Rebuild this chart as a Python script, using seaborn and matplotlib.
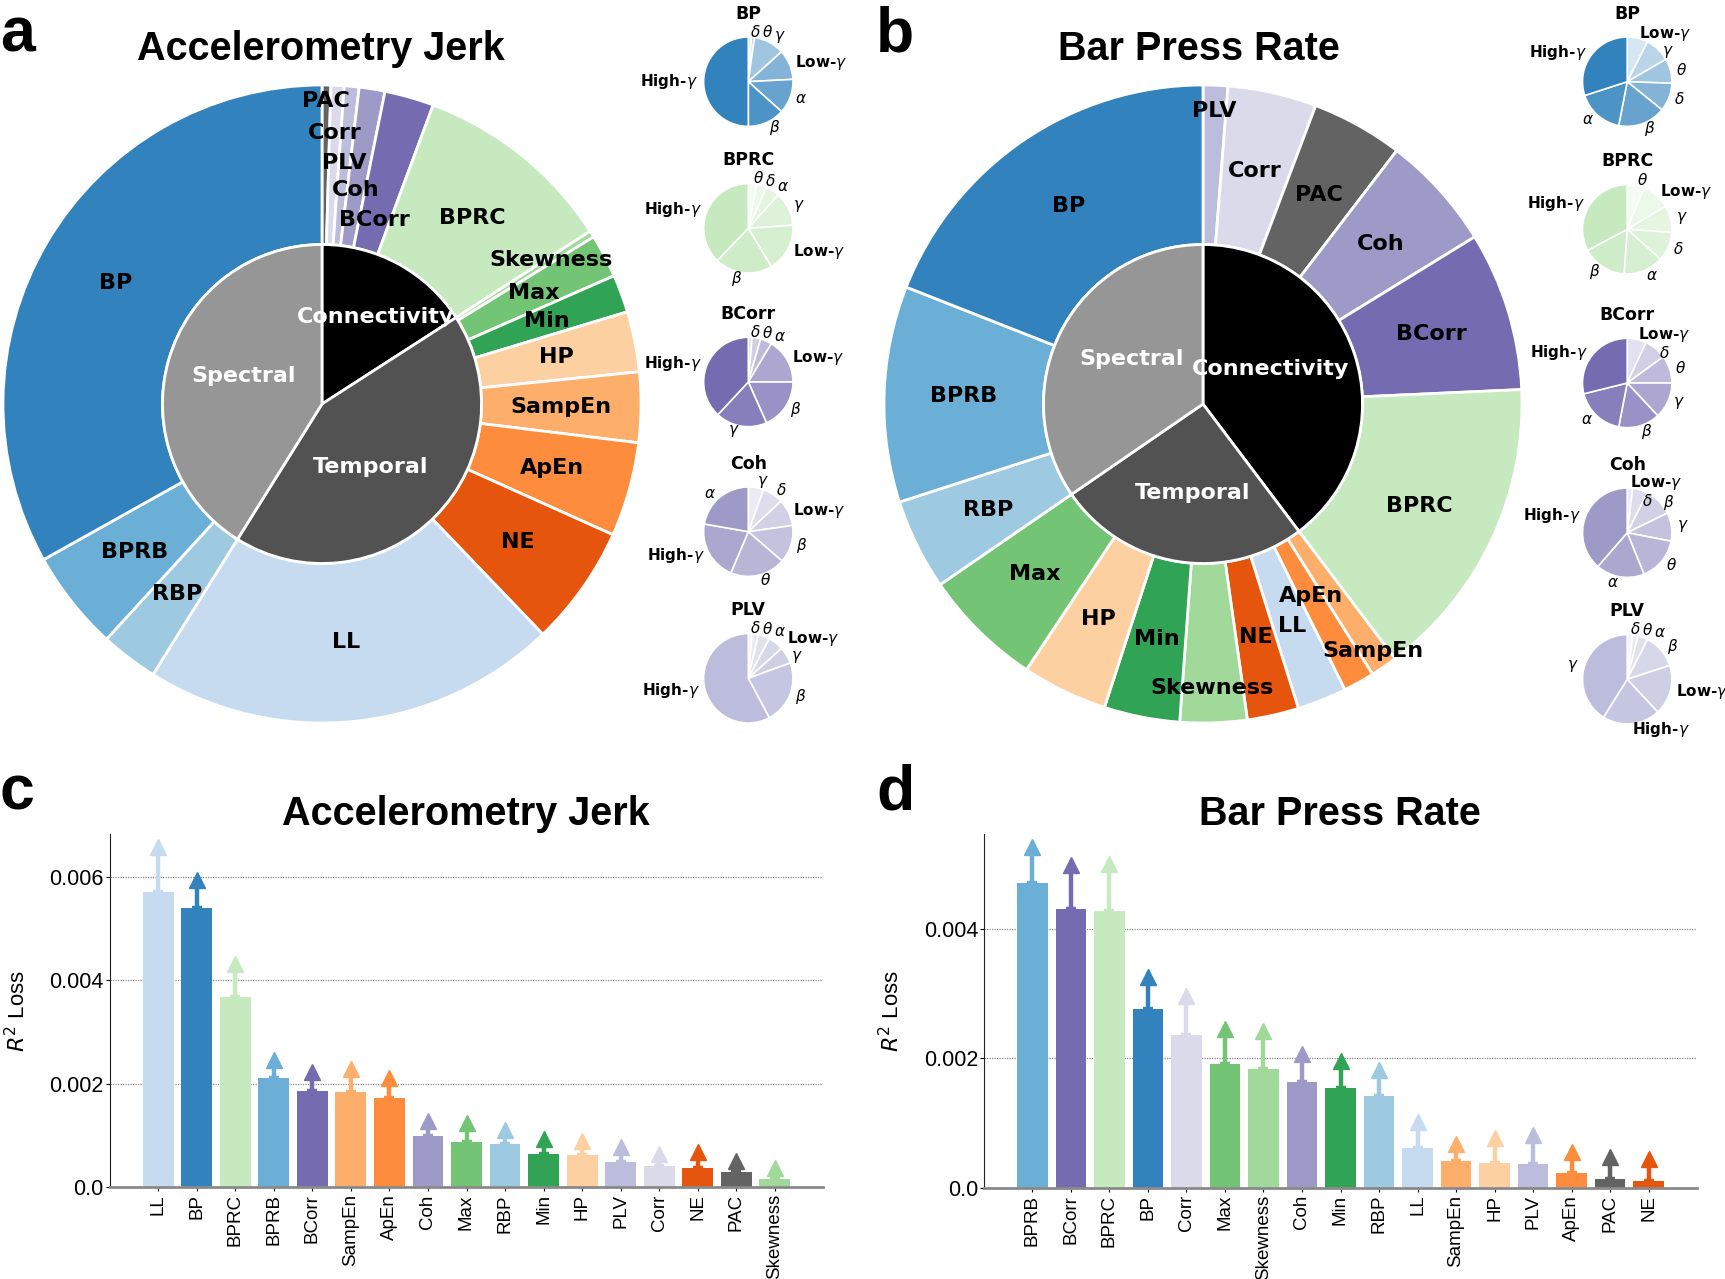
import numpy as np
import matplotlib
matplotlib.use("Agg")
import matplotlib.pyplot as plt
import seaborn as sns
from matplotlib.colors import to_rgb
from matplotlib.transforms import offset_copy

plt.rcParams['font.family'] = ['Liberation Sans', 'DejaVu Sans']
DONUT_FONT = 'DejaVu Sans'

# feature families
groups = ['Connectivity', 'Temporal', 'Spectral']
group_colors = ['#000000', '#525252', '#969696']
feature_group = {
    'PAC': 'Connectivity', 'Corr': 'Connectivity', 'PLV': 'Connectivity',
    'Coh': 'Connectivity', 'BCorr': 'Connectivity', 'BPRC': 'Connectivity',
    'Skewness': 'Temporal', 'Max': 'Temporal', 'Min': 'Temporal', 'HP': 'Temporal',
    'SampEn': 'Temporal', 'ApEn': 'Temporal', 'NE': 'Temporal', 'LL': 'Temporal',
    'RBP': 'Spectral', 'BPRB': 'Spectral', 'BP': 'Spectral',
}
feature_colors = {
    'BP': '#3182bd', 'BPRB': '#6baed6', 'RBP': '#9ecae1', 'LL': '#c6dbef',
    'NE': '#e6550d', 'ApEn': '#fd8d3c', 'SampEn': '#fdae6b', 'HP': '#fdd0a2',
    'Min': '#31a354', 'Max': '#74c476', 'Skewness': '#a1d99b', 'BPRC': '#c7e9c0',
    'BCorr': '#756bb1', 'Coh': '#9e9ac8', 'PLV': '#bcbddc', 'Corr': '#dadaeb',
    'PAC': '#636363',
}

# a: share of each feature (degrees of the ring)
jerk_features = ['PAC', 'Corr', 'PLV', 'Coh', 'BCorr', 'BPRC', 'Skewness', 'Max', 'Min',
                 'HP', 'SampEn', 'ApEn', 'NE', 'LL', 'RBP', 'BPRB', 'BP']
jerk_share = [1.6, 2.4, 2.7, 4.7, 9.0, 36.8, 1.2, 7.9, 6.9,
              11.0, 12.8, 17.2, 22.0, 75.8, 10.5, 18.3, 119.2]

# b
press_features = ['PLV', 'Corr', 'PAC', 'Coh', 'BCorr', 'BPRC', 'SampEn', 'ApEn', 'LL',
                  'NE', 'Skewness', 'Min', 'HP', 'Max', 'RBP', 'BPRB', 'BP']
press_share = [4.5, 16.2, 16.7, 21.0, 29.0, 55.6, 4.9, 5.7, 9.0,
               9.4, 12.2, 13.8, 15.6, 21.9, 16.6, 39.4, 68.5]

# c: R2 loss when a feature is dropped
jerk_rank = ['LL', 'BP', 'BPRC', 'BPRB', 'BCorr', 'SampEn', 'ApEn', 'Coh', 'Max',
             'RBP', 'Min', 'HP', 'PLV', 'Corr', 'NE', 'PAC', 'Skewness']
jerk_loss = [0.00571, 0.00539, 0.00367, 0.00212, 0.00187, 0.00185, 0.00172, 0.00099, 0.00088,
             0.00084, 0.00064, 0.00062, 0.00048, 0.00042, 0.00038, 0.00030, 0.00017]
jerk_upper = [0.00650, 0.00586, 0.00423, 0.00238, 0.00216, 0.00220, 0.00204, 0.00120, 0.00116,
              0.00103, 0.00086, 0.00082, 0.00070, 0.00057, 0.00060, 0.00044, 0.00029]

# d
press_rank = ['BPRB', 'BCorr', 'BPRC', 'BP', 'Corr', 'Max', 'Skewness', 'Coh', 'Min',
              'RBP', 'LL', 'SampEn', 'HP', 'PLV', 'ApEn', 'PAC', 'NE']
press_loss = [0.00471, 0.00431, 0.00428, 0.00277, 0.00236, 0.00191, 0.00183, 0.00163, 0.00154,
              0.00142, 0.00061, 0.00041, 0.00038, 0.00037, 0.00023, 0.00013, 0.00010]
press_upper = [0.00521, 0.00493, 0.00494, 0.00320, 0.00291, 0.00239, 0.00236, 0.00200, 0.00190,
               0.00176, 0.00095, 0.00061, 0.00071, 0.00075, 0.00049, 0.00042, 0.00038]

# band shares inside the small pies (degrees)
band_tex = {'δ': r'$\delta$', 'θ': r'$\theta$', 'α': r'$\alpha$', 'β': r'$\beta$',
            'γ': r'$\gamma$', 'Low-γ': r'Low-$\gamma$', 'High-γ': r'High-$\gamma$'}

jerk_bp_bands = ['δ', 'θ', 'γ', 'Low-γ', 'α', 'β', 'High-γ']
jerk_bp_share = [4, 4, 40, 39, 45, 48, 180]
jerk_bprc_bands = ['θ', 'δ', 'α', 'γ', 'Low-γ', 'β', 'High-γ']
jerk_bprc_share = [11, 13, 18, 44, 63, 75, 136]
jerk_bcorr_bands = ['δ', 'θ', 'α', 'Low-γ', 'β', 'γ', 'High-γ']
jerk_bcorr_share = [5, 11, 15, 59, 66, 67, 137]
jerk_coh_bands = ['γ', 'δ', 'Low-γ', 'β', 'θ', 'High-γ', 'α']
jerk_coh_share = [20, 27, 35, 49, 72, 77, 80]
jerk_plv_bands = ['δ', 'θ', 'α', 'Low-γ', 'γ', 'β', 'High-γ']
jerk_plv_share = [5, 8, 15, 20, 22, 82, 208]

press_bp_bands = ['Low-γ', 'γ', 'θ', 'δ', 'β', 'α', 'High-γ']
press_bp_share = [27, 33, 32, 37, 62, 61, 108]
press_bprc_bands = ['θ', 'Low-γ', 'γ', 'δ', 'α', 'β', 'High-γ']
press_bprc_share = [22, 37, 35, 38, 52, 58, 118]
press_bcorr_bands = ['Low-γ', 'δ', 'θ', 'γ', 'β', 'α', 'High-γ']
press_bcorr_share = [25, 29, 36, 47, 54, 65, 104]
press_coh_bands = ['Low-γ', 'δ', 'β', 'γ', 'θ', 'α', 'High-γ']
press_coh_share = [7, 20, 37, 37, 57, 63, 139]
press_plv_bands = ['δ', 'θ', 'α', 'β', 'Low-γ', 'High-γ', 'γ']
press_plv_share = [7, 7, 13, 45, 65, 75, 148]

W, H = 1725, 1279
fig = plt.figure(figsize=(W / 100, H / 100), dpi=100)


def place(cx, cy, hw, hh=None):
    hh = hw if hh is None else hh
    return fig.add_axes([(cx - hw) / W, 1 - (cy + hh) / H, 2 * hw / W, 2 * hh / H])


def donut(ax, features, shares, outer_pos, inner_pos):
    cols = [feature_colors[f] for f in features]
    outer, _ = ax.pie(shares, radius=1, startangle=90, counterclock=False, colors=cols,
                      wedgeprops=dict(width=0.5, edgecolor='white', linewidth=2))
    totals = [sum(s for f, s in zip(features, shares) if feature_group[f] == g) for g in groups]
    inner, _ = ax.pie(totals, radius=0.5, startangle=90, counterclock=False, colors=group_colors,
                      wedgeprops=dict(edgecolor='white', linewidth=2))
    for w, f in zip(outer, features):
        a = np.deg2rad((w.theta1 + w.theta2) / 2)
        r = outer_pos.get(f, 0.75)
        ax.text(r * np.cos(a), r * np.sin(a), f, ha='center', va='center',
                fontsize=16, fontweight='bold', family=DONUT_FONT)
    for w, g in zip(inner, groups):
        r, shift = inner_pos[g]
        a = np.deg2rad((w.theta1 + w.theta2) / 2 - shift)
        ax.text(r * np.cos(a), r * np.sin(a), g, ha='center', va='center', color='white',
                fontsize=16, fontweight='bold', family=DONUT_FONT)
    ax.set_xlim(-1, 1)
    ax.set_ylim(-1, 1)


def band_pie(ax, title, bands, shares, base):
    rgb = np.array(to_rgb(base))
    cols = [tuple(1 - t * (1 - rgb)) for t in np.linspace(0.2, 1, len(bands))]
    _, texts = ax.pie(shares, labels=[band_tex[b] for b in bands], colors=cols, startangle=90,
                      counterclock=False, labeldistance=1.12,
                      wedgeprops=dict(edgecolor='white', linewidth=1.2),
                      textprops=dict(fontsize=11, fontweight='bold', family=DONUT_FONT))
    ax.set_xlim(-1, 1)
    ax.set_ylim(-1, 1)
    ax.text(0, 1.52, title, ha='center', va='center', fontsize=12.5,
            fontweight='bold', family=DONUT_FONT)
    return ax, texts


def spread_labels(ax, texts, renderer):
    # keep labels of thin neighbouring slices from sitting on top of each other
    px = ax.get_window_extent(renderer).width / 2
    for k, cur in enumerate(texts):
        if k == 0 or cur.get_position()[0] <= 0:
            continue
        for prev in texts[:k]:
            a, b = prev.get_window_extent(renderer), cur.get_window_extent(renderer)
            if not (a.x1 > b.x0 and a.x0 < b.x1 and a.y0 < b.y1 and b.y0 < a.y1):
                continue
            x, y = cur.get_position()
            if len(prev.get_text()) > 9:
                cur.set_y(y - (b.y1 - a.y0 + 1) / px)
            else:
                cur.set_x(x + (a.x1 - b.x0 + 1) / px)


def loss_bars(ax, names, loss, upper, ymax, ticks, ticklabels):
    sns.barplot(x=names, y=loss, hue=names, palette=feature_colors, legend=False,
                saturation=1, errorbar=None, width=0.8, ax=ax)
    lift = offset_copy(ax.transData, fig=fig, y=2.9, units='points')
    for i, (v, u) in enumerate(zip(loss, upper)):
        c = feature_colors[names[i]]
        ax.errorbar(i, v, yerr=[[0], [u - v]], fmt='none', ecolor=c, elinewidth=3.2, capsize=0)
        ax.plot(i, v, marker='_', ms=7.5, mew=3.2, color=c)
        ax.plot(i, u, marker='^', ms=11.5, color=c, mec=c, mew=1, transform=lift)
    ax.set_xlim(-1.25, len(names) + 0.25)
    ax.set_ylim(0, ymax)
    ax.set_yticks(ticks)
    ax.set_yticklabels(ticklabels)
    ax.yaxis.grid(True, linestyle=(0, (1, 1)), color='#8c8c8c', linewidth=0.9)
    ax.set_axisbelow(True)
    sns.despine(ax=ax)
    ax.spines['bottom'].set_color('#8a8a8a')
    ax.spines['bottom'].set_linewidth(2)
    ax.spines['left'].set_color('#222222')
    ax.tick_params(axis='y', labelsize=15.5, length=3, pad=1.5)
    ax.tick_params(axis='x', labelsize=13.5, length=3, pad=2, labelrotation=90)
    ax.set_ylabel(r'$R^2$ Loss', fontsize=16, labelpad=14)


small_pies = []

# a
ax_a = place(322, 404, 319)
donut(ax_a, jerk_features, jerk_share,
      {'PAC': 0.95, 'Corr': 0.85, 'PLV': 0.76, 'Coh': 0.68, 'BCorr': 0.6, 'Skewness': 0.85},
      {'Connectivity': (0.32, 3), 'Temporal': (0.25, 8), 'Spectral': (0.26, 4)})
for cy, name, bands, share in [(81.7, 'BP', jerk_bp_bands, jerk_bp_share),
                               (228.3, 'BPRC', jerk_bprc_bands, jerk_bprc_share),
                               (382, 'BCorr', jerk_bcorr_bands, jerk_bcorr_share),
                               (531.7, 'Coh', jerk_coh_bands, jerk_coh_share),
                               (678.3, 'PLV', jerk_plv_bands, jerk_plv_share)]:
    small_pies.append(band_pie(place(748.3, cy, 44.7), name, bands, share, feature_colors[name]))

# b
ax_b = place(1203, 404, 319)
donut(ax_b, press_features, press_share,
      {'PLV': 0.92, 'SampEn': 0.94, 'ApEn': 0.69, 'Skewness': 0.89},
      {'Connectivity': (0.24, -9), 'Temporal': (0.28, -2.6), 'Spectral': (0.265, 4.4)})
for cy, name, bands, share in [(81.7, 'BP', press_bp_bands, press_bp_share),
                               (229.3, 'BPRC', press_bprc_bands, press_bprc_share),
                               (383, 'BCorr', press_bcorr_bands, press_bcorr_share),
                               (532.7, 'Coh', press_coh_bands, press_coh_share),
                               (679.3, 'PLV', press_plv_bands, press_plv_share)]:
    small_pies.append(band_pie(place(1627.2, cy, 44.7), name, bands, share, feature_colors[name]))

# c
ax_c = fig.add_axes([110 / W, 1 - 1187.3 / H, 713 / W, 353.3 / H])
loss_bars(ax_c, jerk_rank, jerk_loss, jerk_upper, 0.00683,
          [0, 0.002, 0.004, 0.006], ['0.0', '0.002', '0.004', '0.006'])

# d
ax_d = fig.add_axes([984.3 / W, 1 - 1187.7 / H, 712.4 / W, 353.7 / H])
loss_bars(ax_d, press_rank, press_loss, press_upper, 0.00547,
          [0, 0.002, 0.004], ['0.0', '0.002', '0.004'])

# titles and panel letters
for x, y, s in [(321, 60, 'Accelerometry Jerk'), (1199, 60, 'Bar Press Rate'),
                (466, 825, 'Accelerometry Jerk'), (1340, 825, 'Bar Press Rate')]:
    fig.text(x / W, 1 - y / H, s, ha='center', va='baseline', fontsize=28.5, fontweight='bold')
for x, y, s in [(0, 52, 'a'), (876, 52, 'b'), (0, 809, 'c'), (876, 809, 'd')]:
    fig.text(x / W, 1 - y / H, s, ha='left', va='baseline', fontsize=45, fontweight='bold')

renderer = fig.canvas.get_renderer()
for ax, texts in small_pies:
    spread_labels(ax, texts, renderer)

fig.savefig('out.png', dpi=100)
